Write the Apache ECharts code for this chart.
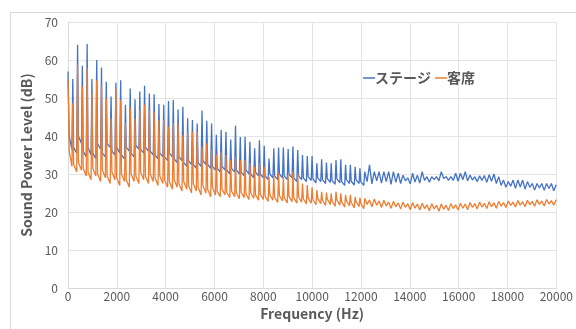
<!DOCTYPE html>
<html>
<head>
<meta charset="utf-8">
<script src="https://cdn.jsdelivr.net/npm/echarts@6/dist/echarts.min.js"></script>
<style>
  html, body { margin: 0; padding: 0; background: #fff; }
  #chart { width: 576px; height: 329px; }
</style>
</head>
<body>
<div id="chart"></div>
<script>
// frequency points (Hz). up to ~12 kHz: harmonic peak + two floor samples, after that peak + floor
const freqHz = [
  0, 50, 160,
  196, 231, 356, 392, 427, 552,
  588, 623, 748, 784, 819, 944,
  980, 1015, 1140, 1176, 1211, 1336,
  1372, 1407, 1532, 1568, 1603, 1728,
  1764, 1799, 1924, 1960, 1995, 2120,
  2156, 2191, 2316, 2352, 2387, 2512,
  2548, 2583, 2708, 2744, 2779, 2904,
  2940, 2975, 3100, 3136, 3171, 3296,
  3332, 3367, 3492, 3528, 3563, 3688,
  3724, 3759, 3884, 3920, 3955, 4080,
  4116, 4151, 4276, 4312, 4347, 4472,
  4508, 4543, 4668, 4704, 4739, 4864,
  4900, 4935, 5060, 5096, 5131, 5256,
  5292, 5327, 5452, 5488, 5523, 5648,
  5684, 5719, 5844, 5880, 5915, 6040,
  6076, 6111, 6236, 6272, 6307, 6432,
  6468, 6503, 6628, 6664, 6699, 6824,
  6860, 6895, 7020, 7056, 7091, 7216,
  7252, 7287, 7412, 7448, 7483, 7608,
  7644, 7679, 7804, 7840, 7875, 8000,
  8036, 8071, 8196, 8232, 8267, 8392,
  8428, 8463, 8588, 8624, 8659, 8784,
  8820, 8855, 8980, 9016, 9051, 9176,
  9212, 9247, 9372, 9408, 9443, 9568,
  9604, 9639, 9764, 9800, 9835, 9960,
  9996, 10031, 10156, 10192, 10227, 10352,
  10388, 10423, 10548, 10584, 10619, 10744,
  10780, 10815, 10940, 10976, 11011, 11136,
  11172, 11207, 11332, 11368, 11403, 11528,
  11564, 11599, 11724, 11760, 11795, 11920,
  11956, 11991, 12116,
  12152, 12250, 12348, 12446, 12544, 12642, 12740, 12838, 12936, 13034,
  13132, 13230, 13328, 13426, 13524, 13622, 13720, 13818, 13916, 14014,
  14112, 14210, 14308, 14406, 14504, 14602, 14700, 14798, 14896, 14994,
  15092, 15190, 15288, 15386, 15484, 15582, 15680, 15778, 15876, 15974,
  16072, 16170, 16268, 16366, 16464, 16562, 16660, 16758, 16856, 16954,
  17052, 17150, 17248, 17346, 17444, 17542, 17640, 17738, 17836, 17934,
  18032, 18130, 18228, 18326, 18424, 18522, 18620, 18718, 18816, 18914,
  19012, 19110, 19208, 19306, 19404, 19502, 19600, 19698, 19796, 19894,
  19992
];

// ステージ (dB)
const stageDb = [
  57, 40, 36.5,
  55, 37, 35.5, 64, 40, 38,
  58.5, 36, 34.5, 64.2, 37, 35,
  55, 35.5, 34, 60, 38, 36.5,
  58, 35.5, 34.5, 54.3, 38, 37,
  50.4, 36, 35, 54, 37, 35.5,
  54.7, 35, 34, 48.2, 37, 36,
  52.5, 35.5, 34.5, 49.7, 37.5, 36.5,
  51.7, 36.5, 35.5, 53.2, 37, 36,
  51.2, 36, 35, 51, 35, 34,
  48.4, 35.5, 34.5, 48.2, 34.5, 33.5,
  49.2, 35.5, 34.5, 49.5, 34, 33,
  47, 34.5, 33.5, 47.7, 33, 32,
  44.7, 33.5, 32.5, 44.2, 32.5, 31.5,
  43.3, 33, 32, 46.7, 33.5, 32.5,
  44, 32.5, 31.5, 43.3, 32, 31,
  40.3, 31.5, 30.5, 41.6, 32, 31,
  41.1, 31, 30, 39.1, 31.5, 30.5,
  42.7, 31, 30, 39.7, 30.5, 29.5,
  39.8, 31, 30, 38.5, 30, 29,
  36.8, 30.5, 29.5, 38.9, 30, 29,
  37.4, 29.5, 28.5, 34.1, 30, 29,
  36.8, 29.5, 28.5, 37, 30, 29,
  37, 29.5, 28.5, 36.6, 30, 29,
  37.2, 29, 28, 36.3, 29.5, 28.5,
  35, 29, 28, 34.7, 29.3, 28.3,
  34.7, 28.7, 27.7, 32.8, 29, 28,
  33.9, 28.5, 27.5, 33, 28.8, 27.8,
  32.8, 28.3, 27.3, 33.7, 28.7, 27.7,
  33.9, 28, 27, 32.4, 28.5, 27.5,
  32.4, 28.1, 27.1, 31.9, 28.5, 27.5,
  31.5, 28, 27,
  30.6, 28, 32.4, 27.4, 30.6, 28.2, 30.6, 27.6, 30.6, 28,
  30.6, 27.3, 30.6, 27.8, 30.2, 27.5, 29.7, 28.2, 29, 27.4,
  30.2, 27.9, 29.7, 27.6, 30.6, 28.3, 29.3, 27.8, 29.3, 28.5,
  29.3, 28.2, 30.6, 28.8, 29.3, 28.3, 29.3, 28.3, 30.2, 28.1,
  30.2, 28.5, 30.6, 28.2, 29.7, 28.4, 29.3, 28, 29.5, 28.3,
  29.6, 27.8, 29.8, 28.1, 30, 27.5, 29.3, 27, 28.4, 26.5,
  28, 26.8, 28.4, 26.2, 28.4, 26.6, 28.4, 26, 28, 26.5,
  27.5, 25.8, 27.5, 26.3, 27.5, 25.7, 27.5, 26.2, 27.5, 25.6,
  27.2
];

// 客席 (dB)
const seatDb = [
  55, 36, 32,
  48.7, 32.5, 30.5, 58.7, 33, 31,
  53, 31.5, 29.5, 57.8, 30.5, 28.5,
  51.2, 31.5, 29.5, 54.7, 30, 28,
  53.4, 31, 29, 49.9, 29.5, 27.5,
  44.7, 30.5, 28.5, 52.5, 29, 27,
  49.5, 30, 28, 43.4, 28.5, 26.5,
  47.4, 30, 28, 44.7, 29.5, 27.5,
  46.8, 30.5, 28.5, 48.2, 29.5, 27.5,
  46.8, 30, 28, 46.4, 29, 27,
  44.2, 29.5, 27.5, 44.2, 28.5, 26.5,
  42.4, 28, 26, 43.4, 28.5, 26.5,
  43.3, 27.5, 25.5, 40.3, 28, 26,
  41.1, 27, 25, 41.1, 27.5, 25.5,
  41, 26.5, 24.5, 37.2, 27, 25,
  38.1, 26, 24, 36.3, 26.5, 24.5,
  35, 25.5, 24, 35.9, 26, 24.5,
  35, 25.2, 23.8, 33.7, 25.5, 24,
  34.6, 25, 23.5, 33.7, 25.2, 23.8,
  33.7, 24.7, 23.3, 32.8, 25, 23.6,
  31.9, 24.5, 23.1, 32.8, 24.7, 23.3,
  31.9, 24.2, 22.8, 29.3, 24.5, 23.1,
  29.7, 23.9, 22.5, 30.2, 24.3, 22.9,
  29.3, 23.8, 22.4, 29.7, 24.1, 22.7,
  30.6, 23.7, 22.3, 30.2, 24, 22.6,
  27.5, 23.5, 22.1, 27.1, 23.7, 22.3,
  26.5, 23.3, 21.9, 25.8, 23.6, 22.2,
  25.3, 23.1, 21.7, 25.1, 23.4, 22,
  24.9, 22.9, 21.5, 25.3, 23.2, 21.8,
  24.9, 22.7, 21.3, 24.5, 23, 21.6,
  24.5, 22.5, 21.1, 24, 22.8, 21.4,
  23.8, 22.3, 20.9,
  23.6, 22, 23.2, 21.4, 23.4, 21.8, 22.9, 21.2, 23.1, 21.6,
  22.6, 21, 22.8, 21.4, 22.4, 20.8, 22.6, 21.2, 22.2, 20.6,
  22.5, 21, 22.1, 20.5, 22.3, 20.9, 21.9, 20.3, 22.2, 20.8,
  21.8, 20.2, 22.1, 20.7, 21.8, 20.4, 22.2, 20.9, 21.9, 20.5,
  22.3, 21, 22.1, 20.6, 22.5, 21.2, 22.2, 20.8, 22.6, 21.3,
  22.3, 20.9, 22.7, 21.4, 22.4, 21, 22.8, 21.5, 22.5, 21.2,
  22.9, 21.7, 22.6, 21.3, 23, 21.8, 22.7, 21.4, 23.1, 21.9,
  22.8, 21.5, 23.2, 22, 22.9, 21.6, 23.3, 22.1, 23, 21.8,
  23.2
];

const xTicks = { min: 0, max: 20000, interval: 2000 };
const yTicks = { min: 0, max: 70, interval: 10 };

const chart = echarts.init(document.getElementById('chart'), null, { renderer: 'canvas' });

const zip = (vals) => freqHz.map((f, i) => [f, vals[i]]);
const font = '"Noto Sans CJK JP", "Noto Sans", sans-serif';

chart.setOption({
  animation: false,
  textStyle: { fontFamily: font },
  graphic: [{
    type: 'rect',
    shape: { x: 10.5, y: 12.5, width: 600, height: 400 },
    style: { fill: 'none', stroke: '#d9d9d9', lineWidth: 1 },
    silent: true
  }],
  color: ['#4472C4', '#ED7D31'],
  legend: {
    left: 358,
    top: 66,
    icon: 'rect',
    itemWidth: 12,
    itemHeight: 1.5,
    itemGap: 4,
    textStyle: {
      fontFamily: font,
      fontSize: 14,
      fontWeight: 'bold',
      color: '#595959',
      padding: [0, 0, 0, -5]
    },
    data: ['ステージ', '客席']
  },
  grid: { left: 68, right: 15, top: 22, bottom: 41 },
  xAxis: {
    type: 'value',
    min: xTicks.min,
    max: xTicks.max,
    interval: xTicks.interval,
    name: 'Frequency (Hz)',
    nameLocation: 'middle',
    nameGap: 18,
    nameTextStyle: { fontFamily: font, fontSize: 14, fontWeight: 'bold', color: '#595959' },
    axisLine: { show: true, lineStyle: { color: '#d9d9d9' } },
    axisTick: { show: false },
    axisLabel: { color: '#595959', fontSize: 12, margin: 2, fontFamily: font, formatter: (v) => String(v) },
    splitLine: { show: true, lineStyle: { color: '#e4e4e4' } }
  },
  yAxis: {
    type: 'value',
    min: yTicks.min,
    max: yTicks.max,
    interval: yTicks.interval,
    name: 'Sound Power Level (dB)',
    nameLocation: 'middle',
    nameGap: 31,
    nameTextStyle: { fontFamily: font, fontSize: 14, fontWeight: 'bold', color: '#595959' },
    axisLine: { show: true, lineStyle: { color: '#d9d9d9' } },
    axisTick: { show: false },
    axisLabel: { color: '#595959', fontSize: 12, margin: 10, fontFamily: font },
    splitLine: { show: true, lineStyle: { color: '#e4e4e4' } }
  },
  series: [
    {
      name: 'ステージ',
      type: 'line',
      data: zip(stageDb),
      showSymbol: false,
      symbol: 'none',
      lineStyle: { width: 1.3 }
    },
    {
      name: '客席',
      type: 'line',
      data: zip(seatDb),
      showSymbol: false,
      symbol: 'none',
      lineStyle: { width: 1.3 }
    }
  ]
});
</script>
</body>
</html>
